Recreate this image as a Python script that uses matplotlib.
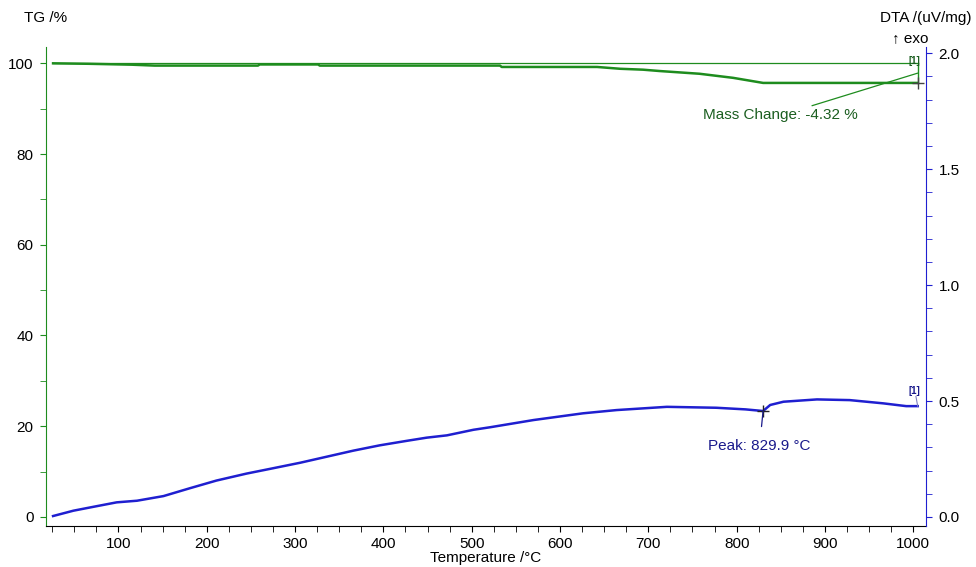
import numpy as np
import matplotlib
matplotlib.use("Agg")
import matplotlib.pyplot as plt
from matplotlib.ticker import MultipleLocator

plt.rcParams['font.family'] = ['Liberation Sans', 'DejaVu Sans']
plt.rcParams['font.size'] = 11

# TG curve (mass %, vs temperature)
tg_temp = [26, 66, 115, 141, 258, 260, 326, 328, 532, 534, 577, 642, 668, 694,
           713, 758, 796, 830, 1005]
tg_mass = [100.0, 99.9, 99.7, 99.5, 99.5, 99.75, 99.75, 99.5, 99.5, 99.2, 99.2,
           99.2, 98.8, 98.6, 98.3, 97.7, 96.8, 95.68, 95.68]

# DTA curve (uV/mg, vs temperature)
dta_temp = [26, 49, 72, 98, 121, 151, 181, 211, 245, 275, 306, 336, 366, 396,
            426, 449, 472, 502, 521, 570, 626, 664, 721, 777, 810, 829.9, 838,
            853, 891, 928, 966, 992, 1005]
dta_val = [0.004, 0.027, 0.044, 0.063, 0.070, 0.090, 0.124, 0.157, 0.187, 0.21,
           0.234, 0.26, 0.286, 0.309, 0.328, 0.342, 0.352, 0.376, 0.387, 0.418,
           0.447, 0.461, 0.475, 0.471, 0.464, 0.457, 0.483, 0.497, 0.507, 0.504,
           0.49, 0.478, 0.478]

mass_start = 100.0
mass_change = -4.32
mass_end = mass_start + mass_change
step_temp = 1005
peak_temp = 829.9
peak_val = 0.457

GREEN = '#1e8c1e'
DKGREEN = '#1b5e20'
BLUE = '#1f1fd0'
DKBLUE = '#1a1a8c'

fig = plt.figure(figsize=(9.76, 5.67), dpi=100)
ax = fig.add_axes([46 / 976, 41 / 567, 880 / 976, 479 / 567])
ax2 = ax.twinx()

ax.set_xlim(18, 1014.4)
ax.set_ylim(-2.0, 103.6)
ax2.set_ylim(-0.039, 2.027)

# TG
ax.plot(tg_temp, tg_mass, color=GREEN, lw=1.8)
ax.plot([tg_temp[0], step_temp], [mass_start, mass_start], color=GREEN, lw=0.9)
ax.plot([step_temp, step_temp], [mass_start, mass_end], color=GREEN, lw=1.0)
ax.plot([step_temp], [mass_end], marker='+', color='#444444', ms=8, mew=1)
ax.text(1001, 99.4, '[1]', color=DKGREEN, fontsize=7, fontweight='bold',
        ha='center', va='bottom')
ax.annotate('Mass Change: %.2f %%' % mass_change,
            xy=(step_temp, (mass_start + mass_end) / 2), xytext=(937, 88.5),
            color=DKGREEN, ha='right', va='center',
            arrowprops=dict(arrowstyle='-', color=GREEN, lw=0.9,
                            shrinkA=0, shrinkB=0))

# DTA
ax2.plot(dta_temp, dta_val, color=BLUE, lw=1.8)
ax2.plot([dta_temp[-1], 1003], [dta_val[-1], 0.52], color='#8080c0', lw=0.8)
ax2.text(1001, 0.52, '[1]', color=DKBLUE, fontsize=7, fontweight='bold',
         ha='center', va='bottom')
ax2.plot([peak_temp], [peak_val], marker='+', color='#222222', ms=8, mew=1)
ax2.annotate('Peak: %.1f °C' % peak_temp, xy=(peak_temp, peak_val),
             xytext=(826, 0.306), color=DKBLUE, ha='center', va='center',
             arrowprops=dict(arrowstyle='-', color=DKBLUE, lw=0.9,
                             shrinkA=7, shrinkB=0))

# axes styling
for a in (ax, ax2):
    a.spines['top'].set_visible(False)
ax.spines['left'].set_color(GREEN)
ax.spines['right'].set_visible(False)
ax2.spines['left'].set_visible(False)
ax2.spines['right'].set_color(BLUE)
ax2.spines['bottom'].set_visible(False)
ax.spines['bottom'].set_color('black')

ax.xaxis.set_major_locator(MultipleLocator(100))
ax.xaxis.set_minor_locator(MultipleLocator(25))
ax.set_xticks(np.arange(100, 1001, 100))
ax.yaxis.set_major_locator(MultipleLocator(20))
ax.yaxis.set_minor_locator(MultipleLocator(10))
ax2.yaxis.set_major_locator(MultipleLocator(0.5))
ax2.yaxis.set_minor_locator(MultipleLocator(0.1))
ax2.yaxis.set_major_formatter(matplotlib.ticker.FormatStrFormatter('%.1f'))

ax.tick_params(axis='x', which='both', direction='out', length=4, pad=4,
               labelsize=11)
ax.tick_params(axis='y', which='both', direction='out', length=4, pad=5,
               color=GREEN, labelsize=11)
ax2.tick_params(axis='y', which='both', direction='out', length=4, pad=5,
                color=BLUE, labelsize=11)

ax.set_xlabel('Temperature /°C', fontsize=11, labelpad=0)

fig.text(24 / 976, 1 - 18 / 567, 'TG /%', ha='left', va='center', fontsize=11)
fig.text(972 / 976, 1 - 18 / 567, 'DTA /(uV/mg)', ha='right', va='center',
         fontsize=11)
fig.text(928 / 976, 1 - 38 / 567, '↑ exo', ha='right', va='center',
         fontsize=11)

fig.savefig('out.png', dpi=100)
